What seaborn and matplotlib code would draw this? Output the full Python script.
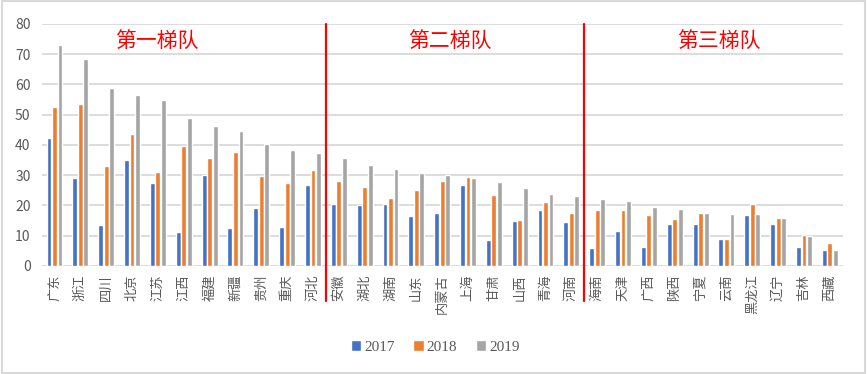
import matplotlib
matplotlib.use("Agg")
import matplotlib.pyplot as plt
from matplotlib.patches import Rectangle
import seaborn as sns
import pandas as pd

provinces = ["广东", "浙江", "四川", "北京", "江苏", "江西", "福建", "新疆", "贵州", "重庆", "河北",
             "安徽", "湖北", "湖南", "山东", "内蒙古", "上海", "甘肃", "山西", "青海", "河南",
             "海南", "天津", "广西", "陕西", "宁夏", "云南", "黑龙江", "辽宁", "吉林", "西藏"]
v2017 = [42.4, 29.0, 13.5, 35.0, 27.5, 11.1, 30.0, 12.5, 19.1, 12.8, 26.7,
         20.4, 20.1, 20.4, 16.4, 17.4, 26.7, 8.5, 14.8, 18.4, 14.5,
         5.8, 11.5, 6.2, 13.8, 13.8, 8.8, 16.8, 13.8, 6.2, 5.2]
v2018 = [52.5, 53.5, 33.0, 43.6, 31.0, 39.6, 35.7, 37.6, 29.7, 27.4, 31.7,
         28.0, 26.0, 22.4, 25.1, 28.0, 29.4, 23.4, 15.1, 21.1, 17.4,
         18.4, 18.4, 16.8, 15.5, 17.4, 8.8, 20.4, 15.8, 10.2, 7.5]
v2019 = [73.1, 68.4, 58.8, 56.5, 54.9, 48.9, 46.2, 44.6, 40.3, 38.3, 37.3,
         35.7, 33.3, 32.0, 30.7, 30.0, 29.0, 27.7, 25.7, 23.7, 23.1,
         22.1, 21.4, 19.4, 18.8, 17.4, 17.1, 17.1, 15.8, 9.8, 5.2]
years = ["2017", "2018", "2019"]
tier_names = ["第一梯队", "第二梯队", "第三梯队"]
tier_breaks = [10.5, 20.5]

df = pd.DataFrame({"province": provinces * 3,
                   "value": v2017 + v2018 + v2019,
                   "year": [y for y in years for _ in provinces]})

sns.set_theme(style="white")
plt.rcParams['font.family'] = ['Noto Sans CJK SC', 'DejaVu Sans']

fig = plt.figure(figsize=(8.67, 3.74), dpi=100)
ax = fig.add_axes([0.048, 0.289, 0.924, 0.647])

sns.barplot(data=df, x="province", y="value", hue="year",
            palette=["#4472C4", "#ED7D31", "#A5A5A5"],
            width=0.64, gap=0.12, saturation=1, ax=ax, legend=True)

ax.set_xlim(-0.5, 30.5)
ax.set_ylim(0, 80)
ax.set_yticks(range(0, 81, 10))
ax.yaxis.grid(True, color="#d9d9d9", linewidth=1.3)
ax.set_axisbelow(True)
for s in ax.spines.values():
    s.set_visible(False)
ax.set_xlabel("")
ax.set_ylabel("")
ax.tick_params(axis="y", colors="#595959", labelsize=10, length=0, pad=8)
ax.tick_params(axis="x", colors="#595959", labelsize=9.5, length=0, pad=6)
plt.setp(ax.get_xticklabels(), rotation=90)

# tier separators
for xb in tier_breaks:
    ax.plot([xb, xb], [-11.5, 80], color="red", linewidth=1.6, clip_on=False, zorder=5)

for name, xc in zip(tier_names, [3.95, 15.3, 25.7]):
    ax.text(xc, 74.5, name, color="red", fontsize=15, ha="center", va="center")

handles, labels = ax.get_legend_handles_labels()
ax.legend(handles, labels, loc="center", bbox_to_anchor=(0.502, 0.072),
          bbox_transform=fig.transFigure, ncol=3, frameon=False,
          handlelength=0.7, handleheight=0.7, handletextpad=0.2, columnspacing=1.2,
          prop={"family": "Liberation Serif", "size": 11}, labelcolor="#595959")

fig.patches.append(Rectangle((0.002, 0.004), 0.996, 0.992, transform=fig.transFigure,
                             fill=False, edgecolor="#d9d9d9", linewidth=1.5))

fig.savefig("out.png", dpi=100)
